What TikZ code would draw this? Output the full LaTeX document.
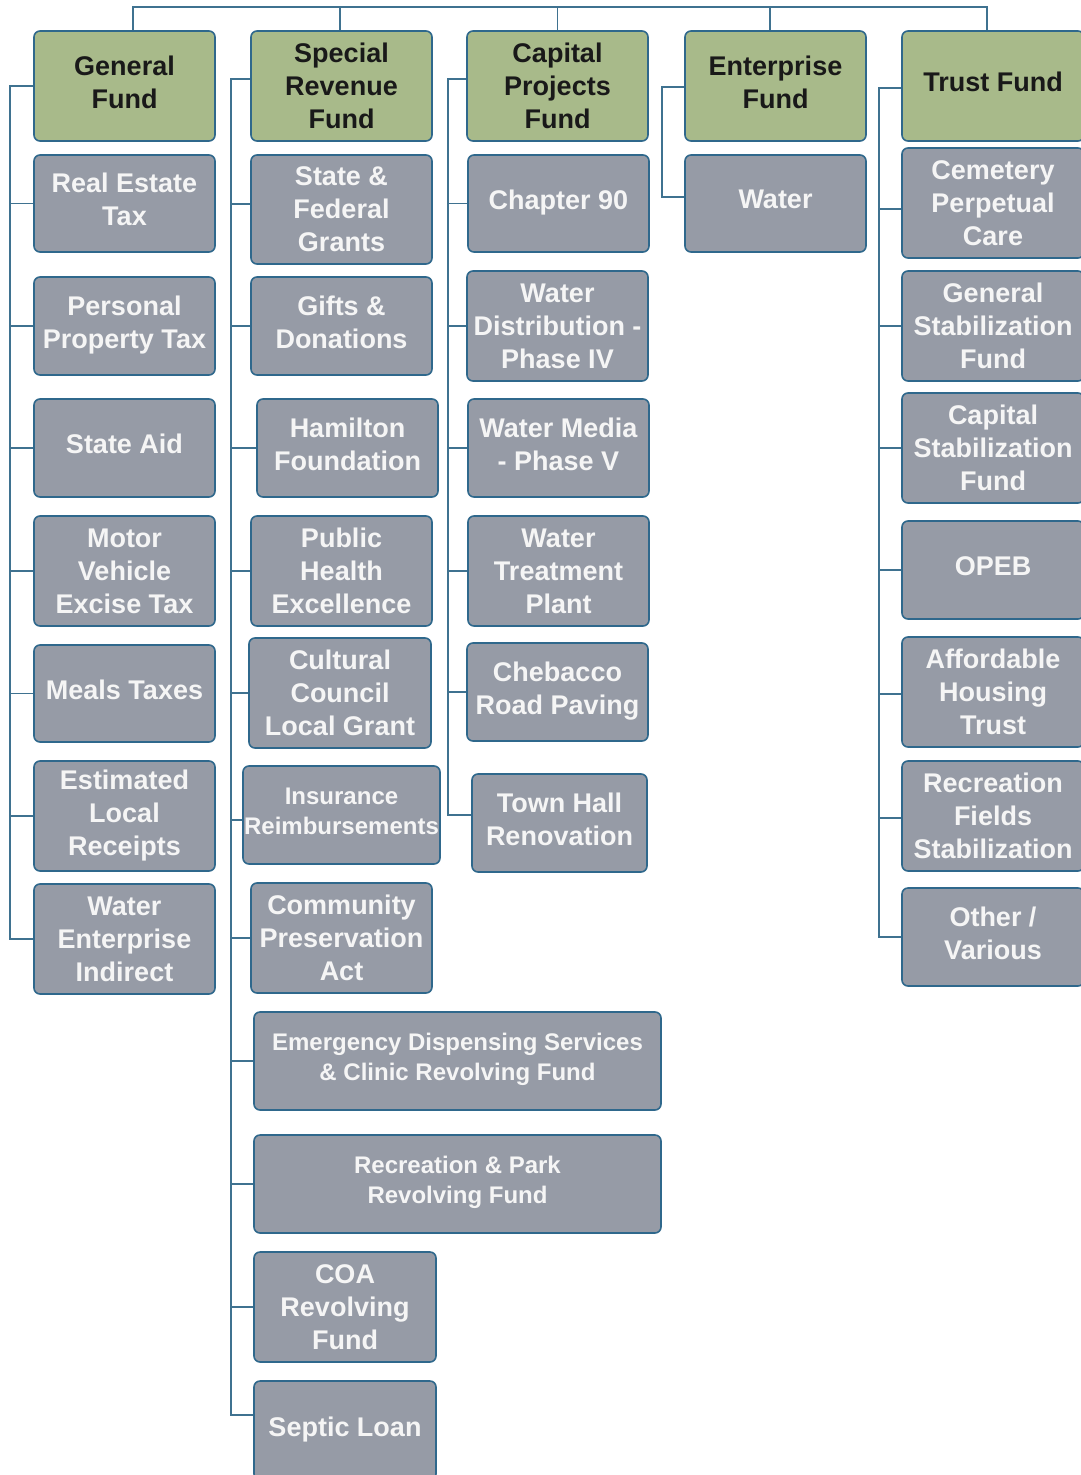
\documentclass[tikz,border=0pt]{standalone}
\usepackage{fontspec}
\setmainfont{Liberation Sans}
\definecolor{hdrfill}{HTML}{A8BA8A}
\definecolor{subfill}{HTML}{969BA6}
\definecolor{edge}{HTML}{2F688C}
\definecolor{wire}{HTML}{3F7290}
\definecolor{subtext}{HTML}{F5F5F5}
\tikzset{
  box/.style={draw=edge, line width=1.6pt, rounded corners=6pt, align=center,
    inner sep=0pt, text depth=8pt, font=\fontsize{27}{33}\selectfont\bfseries},
  hdr/.style={box, fill=hdrfill, text=black!90},
  sub/.style={box, fill=subfill, text=subtext},
  three/.style={text depth={}},
  small/.style={font=\fontsize{24}{30}\selectfont\bfseries},
  conn/.style={draw=wire, line width=1.4pt},
}
\begin{document}
\begin{tikzpicture}[x=1pt, y=-1pt]
\clip (0,0) rectangle (1081,1475);
\fill[white] (0,0) rectangle (1081,1475);

% ---- General Fund column
\node[hdr, minimum width=181, minimum height=110] (gf) at (124.5,86) {General\\Fund};
\node[sub, minimum width=181, minimum height=97] (ret) at (124.5,203.5) {Real Estate\\Tax};
\node[sub, minimum width=181, minimum height=98] (ppt) at (124.5,326) {Personal\\Property Tax};
\node[sub, minimum width=181, minimum height=98] (sa) at (124.5,448) {State Aid};
\node[sub, three, minimum width=181, minimum height=110] (mve) at (124.5,571) {Motor\\Vehicle\\Excise Tax};
\node[sub, minimum width=181, minimum height=97] (mt) at (124.5,693.5) {Meals Taxes};
\node[sub, three, minimum width=181, minimum height=110] (elr) at (124.5,816) {Estimated\\Local\\Receipts};
\node[sub, three, minimum width=181, minimum height=110] (wei) at (124.5,939) {Water\\Enterprise\\Indirect};

% ---- Special Revenue Fund column
\node[hdr, three, minimum width=181, minimum height=110] (sr) at (341.5,86) {Special\\Revenue\\Fund};
\node[sub, three, minimum width=181, minimum height=109] (sfg) at (341.5,209.5) {State \&\\Federal\\Grants};
\node[sub, minimum width=181, minimum height=98] (gd) at (341.5,326) {Gifts \&\\Donations};
\node[sub, minimum width=181, minimum height=98] (hf) at (347.5,448) {Hamilton\\Foundation};
\node[sub, three, minimum width=181, minimum height=110] (phe) at (341.5,571) {Public\\Health\\Excellence};
\node[sub, three, minimum width=182, minimum height=110] (ccl) at (340,693) {Cultural\\Council\\Local Grant};
\node[sub, small, minimum width=197, minimum height=98] (ir) at (341.5,815) {Insurance\\Reimbursements};
\node[sub, three, minimum width=181, minimum height=110] (cpa) at (341.5,938) {Community\\Preservation\\Act};
\node[sub, small, minimum width=407, minimum height=98] (eds) at (457.5,1061) {Emergency Dispensing Services\\\& Clinic Revolving Fund};
\node[sub, small, minimum width=407, minimum height=98] (rpr) at (457.5,1184) {Recreation \& Park\\Revolving Fund};
\node[sub, three, minimum width=182, minimum height=110] (coa) at (345,1307) {COA\\Revolving\\Fund};
\node[sub, minimum width=182, minimum height=99] (sl) at (345,1430.5) {Septic Loan};

% ---- Capital Projects Fund column
\node[hdr, three, minimum width=181, minimum height=110] (cpf) at (557.5,86) {Capital\\Projects\\Fund};
\node[sub, minimum width=181, minimum height=97] (c90) at (558.5,203.5) {Chapter 90};
\node[sub, three, minimum width=181, minimum height=110] (wd) at (557.5,326) {Water\\Distribution -\\Phase IV};
\node[sub, minimum width=181, minimum height=98] (wm) at (558.5,448) {Water Media\\- Phase V};
\node[sub, three, minimum width=181, minimum height=110] (wtp) at (558.5,571) {Water\\Treatment\\Plant};
\node[sub, minimum width=181, minimum height=98] (crp) at (557.5,692) {Chebacco\\Road Paving};
\node[sub, minimum width=175, minimum height=98] (thr) at (559.5,823) {Town Hall\\Renovation};

% ---- Enterprise Fund column
\node[hdr, minimum width=181, minimum height=110] (ef) at (775.5,86) {Enterprise\\Fund};
\node[sub, minimum width=181, minimum height=97] (wa) at (775.5,203.5) {Water};

% ---- Trust Fund column
\node[hdr, minimum width=182, minimum height=110] (tf) at (993,86) {Trust Fund};
\node[sub, three, minimum width=182, minimum height=110] (cpc) at (993,203) {Cemetery\\Perpetual\\Care};
\node[sub, three, minimum width=182, minimum height=110] (gsf) at (993,326) {General\\Stabilization\\Fund};
\node[sub, three, minimum width=182, minimum height=110] (csf) at (993,448) {Capital\\Stabilization\\Fund};
\node[sub, minimum width=182, minimum height=98] (opeb) at (993,570) {OPEB};
\node[sub, three, minimum width=182, minimum height=110] (aht) at (993,692) {Affordable\\Housing\\Trust};
\node[sub, three, minimum width=182, minimum height=110] (rfs) at (993,816) {Recreation\\Fields\\Stabilization};
\node[sub, minimum width=182, minimum height=98] (ov) at (993,937) {Other /\\Various};

% ---- top bus joining the five funds
\coordinate (bus) at (0,7);
\draw[conn] ([xshift=8.5pt]gf.north) -- ([xshift=8.5pt]gf.north |- bus)
  -- ([xshift=-6pt]tf.north |- bus) -- ([xshift=-6pt]tf.north);
\draw[conn] ([xshift=-1.5pt]sr.north) -- ([xshift=-1.5pt]sr.north |- bus);
\draw[conn] (cpf.north) -- (cpf.north |- bus);
\draw[conn] ([xshift=-5.5pt]ef.north) -- ([xshift=-5.5pt]ef.north |- bus);

% ---- spines
\coordinate (s1) at (10,0);
\coordinate (s2) at (231,0);
\coordinate (s3) at (448,0);
\coordinate (s4) at (662,0);
\coordinate (s5) at (879,0);

% General Fund
\draw[conn] (gf.west) -- (gf.west -| s1) -- (wei.west -| s1) -- (wei.west);
\foreach \n in {ret,ppt,sa,mve,mt,elr}
  \draw[conn] (\n.west -| s1) -- (\n.west);

% Special Revenue Fund
\draw[conn] ([yshift=7pt]sr.west) -- ([yshift=7pt]sr.west -| s2)
  -- ([yshift=15.5pt]sl.west -| s2) -- ([yshift=15.5pt]sl.west);
\draw[conn] ([yshift=5.5pt]sfg.west -| s2) -- ([yshift=5.5pt]sfg.west);
\draw[conn] ([yshift=-5pt]ir.west -| s2) -- ([yshift=-5pt]ir.west);
\foreach \n in {gd,hf,phe,ccl,cpa,eds,rpr,coa}
  \draw[conn] (\n.west -| s2) -- (\n.west);

% Capital Projects Fund
\draw[conn] ([yshift=7pt]cpf.west) -- ([yshift=7pt]cpf.west -| s3)
  -- ([yshift=8pt]thr.west -| s3) -- ([yshift=8pt]thr.west);
\foreach \n in {c90,wd,wm,wtp,crp}
  \draw[conn] (\n.west -| s3) -- (\n.west);

% Enterprise Fund
\draw[conn] ([yshift=-1pt]ef.west) -- ([yshift=-1pt]ef.west -| s4)
  -- ([yshift=6.5pt]wa.west -| s4) -- ([yshift=6.5pt]wa.west);

% Trust Fund
\draw[conn] ([yshift=-2pt]tf.west) -- ([yshift=-2pt]tf.west -| s5)
  -- (ov.west -| s5) -- (ov.west);
\draw[conn] ([yshift=-6pt]cpc.west -| s5) -- ([yshift=-6pt]cpc.west);
\draw[conn] ([yshift=-2pt]aht.west -| s5) -- ([yshift=-2pt]aht.west);
\draw[conn] ([yshift=-2pt]rfs.west -| s5) -- ([yshift=-2pt]rfs.west);
\foreach \n in {gsf,csf,opeb}
  \draw[conn] (\n.west -| s5) -- (\n.west);
\end{tikzpicture}
\end{document}
